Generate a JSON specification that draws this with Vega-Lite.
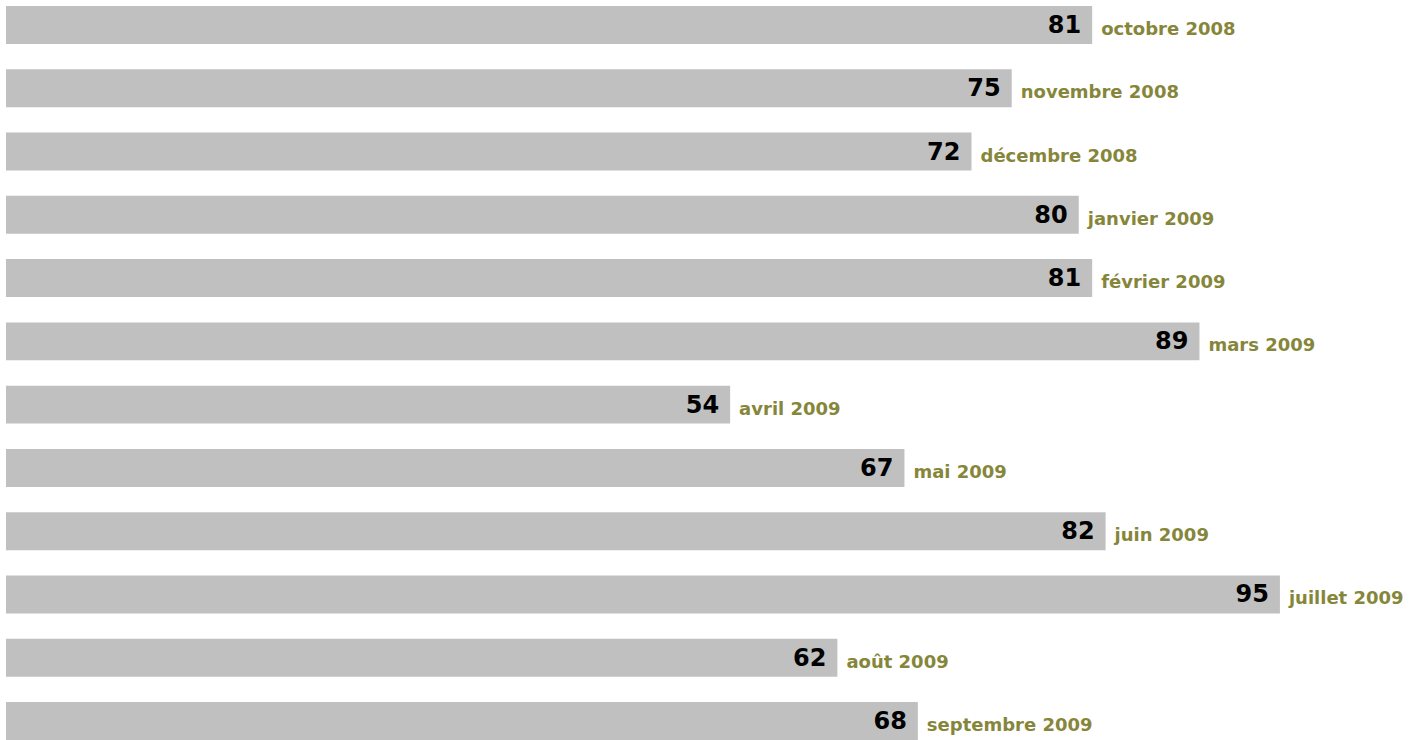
{
  "$schema": "https://vega.github.io/schema/vega-lite/v6.json",
  "width": 1412,
  "height": 740,
  "autosize": {"type": "fit", "contains": "padding"},
  "padding": {"left": 6, "top": 6, "right": 0, "bottom": 0},
  "background": "white",
  "config": {"view": {"stroke": null}},
  "data": {
    "values": [
      {"mois": "octobre 2008", "valeur": 81},
      {"mois": "novembre 2008", "valeur": 75},
      {"mois": "décembre 2008", "valeur": 72},
      {"mois": "janvier 2009", "valeur": 80},
      {"mois": "février 2009", "valeur": 81},
      {"mois": "mars 2009", "valeur": 89},
      {"mois": "avril 2009", "valeur": 54},
      {"mois": "mai 2009", "valeur": 67},
      {"mois": "juin 2009", "valeur": 82},
      {"mois": "juillet 2009", "valeur": 95},
      {"mois": "août 2009", "valeur": 62},
      {"mois": "septembre 2009", "valeur": 68}
    ]
  },
  "encoding": {
    "y": {
      "field": "mois",
      "type": "nominal",
      "sort": null,
      "axis": null,
      "scale": {"paddingInner": 0.4, "paddingOuter": 0}
    },
    "x": {
      "field": "valeur",
      "type": "quantitative",
      "axis": null,
      "scale": {"domain": [0, 104.85], "nice": false, "zero": true}
    }
  },
  "layer": [
    {"mark": {"type": "bar", "color": "#c0c0c0"}},
    {
      "mark": {
        "type": "text",
        "align": "right",
        "baseline": "middle",
        "dx": -11,
        "dy": 1,
        "font": "DejaVu Sans",
        "fontWeight": "bold",
        "fontSize": 24,
        "color": "#000000"
      },
      "encoding": {"text": {"field": "valeur", "type": "quantitative"}}
    },
    {
      "mark": {
        "type": "text",
        "align": "left",
        "baseline": "middle",
        "dx": 9,
        "dy": 5,
        "font": "DejaVu Sans",
        "fontWeight": "bold",
        "fontSize": 18,
        "color": "#86863a"
      },
      "encoding": {"text": {"field": "mois", "type": "nominal"}}
    }
  ]
}
